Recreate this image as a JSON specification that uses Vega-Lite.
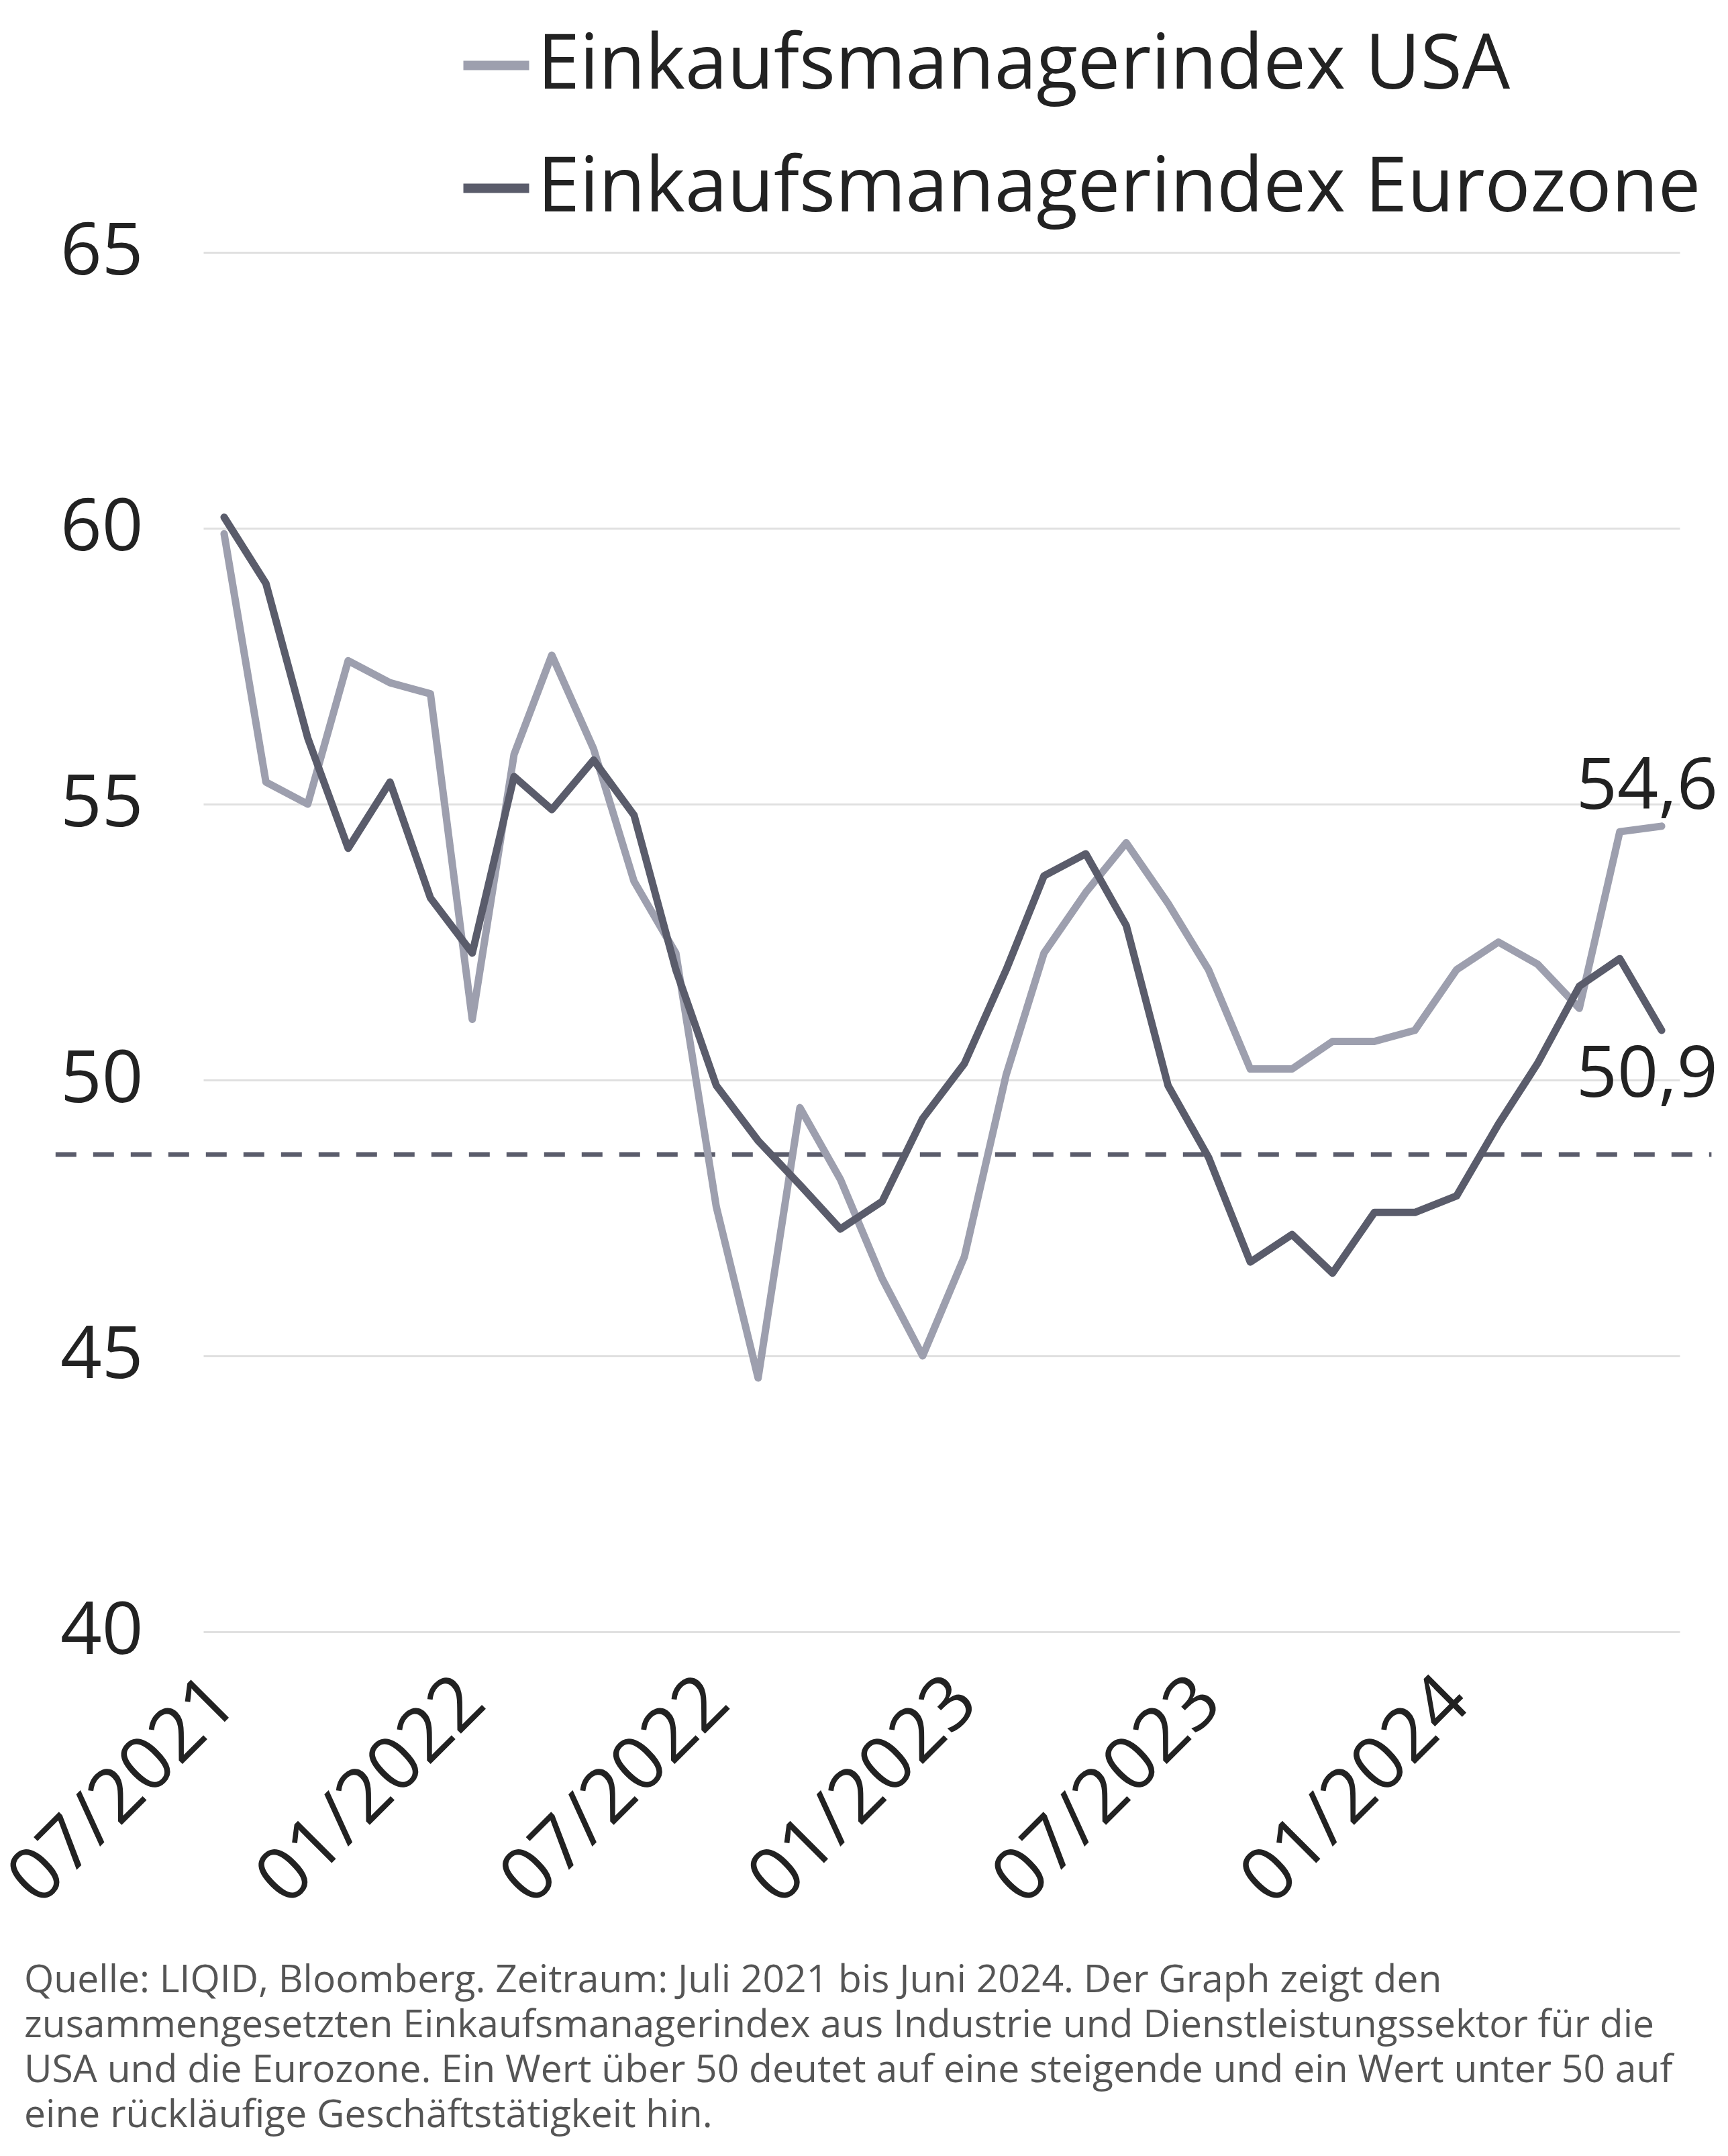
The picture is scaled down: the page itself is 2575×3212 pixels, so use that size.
{
  "$schema": "https://vega.github.io/schema/vega-lite/v6.json",
  "width": 2200,
  "height": 2055,
  "autosize": {"type": "none"},
  "padding": {"left": 303, "top": 376, "right": 72, "bottom": 781},
  "background": "white",
  "config": {"font": "Open Sans", "view": {"stroke": null}},
  "title": {
    "text": [
      "Quelle: LIQID, Bloomberg. Zeitraum: Juli 2021 bis Juni 2024. Der Graph zeigt den",
      "zusammengesetzten Einkaufsmanagerindex aus Industrie und Dienstleistungssektor für die",
      "USA und die Eurozone. Ein Wert über 50 deutet auf eine steigende und ein Wert unter 50 auf",
      "eine rückläufige Geschäftstätigkeit hin."
    ],
    "orient": "bottom",
    "anchor": "start",
    "frame": "group",
    "fontSize": 57,
    "fontWeight": "normal",
    "color": "#555555",
    "lineHeight": 67,
    "dx": -267,
    "offset": 66,
    "baseline": "top"
  },
  "encoding": {
    "x": {
      "field": "d",
      "type": "temporal",
      "title": null,
      "scale": {"type": "utc", "domain": [{"year": 2021, "month": 6, "date": 15, "hours": 14, "utc": true}, {"year": 2024, "month": 6, "date": 14, "hours": 10, "utc": true}]},
      "axis": {
        "values": [
          {"year": 2021, "month": 7, "date": 1, "utc": true},
          {"year": 2022, "month": 1, "date": 1, "utc": true},
          {"year": 2022, "month": 7, "date": 1, "utc": true},
          {"year": 2023, "month": 1, "date": 1, "utc": true},
          {"year": 2023, "month": 7, "date": 1, "utc": true},
          {"year": 2024, "month": 1, "date": 1, "utc": true}
        ],
        "labelExpr": "utcFormat(datum.value, '%m/%Y')",
        "labelAngle": -45,
        "labelAlign": "right",
        "labelBaseline": "middle",
        "labelFontSize": 112,
        "labelColor": "#222222",
        "labelPadding": 86,
        "labelLimit": 3000,
        "labelOverlap": false,
        "labelFlush": false,
        "labelBound": false,
        "ticks": false,
        "domain": false,
        "grid": false
      }
    },
    "y": {
      "field": "v",
      "type": "quantitative",
      "title": null,
      "scale": {"domain": [40, 65], "nice": false, "zero": false},
      "axis": {
        "values": [40, 45, 50, 55, 60, 65],
        "grid": true,
        "gridColor": "#e0e0e0",
        "gridWidth": 3,
        "domain": false,
        "ticks": false,
        "labelFontSize": 108,
        "labelColor": "#222222",
        "labelPadding": 90
      }
    }
  },
  "layer": [
    {
      "data": {"values": [{"d": "2021-02-26", "d2": "2024-07-08", "v": 48.65}]},
      "mark": {"type": "rule", "color": "#5a5c6b", "strokeWidth": 7, "strokeDash": [31, 25]},
      "encoding": {"x2": {"field": "d2"}}
    },
    {
      "data": {"values": [
        {"d": "2021-07-01", "s": "Einkaufsmanagerindex USA", "v": 59.9},
        {"d": "2021-08-01", "s": "Einkaufsmanagerindex USA", "v": 55.4},
        {"d": "2021-09-01", "s": "Einkaufsmanagerindex USA", "v": 55.0},
        {"d": "2021-10-01", "s": "Einkaufsmanagerindex USA", "v": 57.6},
        {"d": "2021-11-01", "s": "Einkaufsmanagerindex USA", "v": 57.2},
        {"d": "2021-12-01", "s": "Einkaufsmanagerindex USA", "v": 57.0},
        {"d": "2022-01-01", "s": "Einkaufsmanagerindex USA", "v": 51.1},
        {"d": "2022-02-01", "s": "Einkaufsmanagerindex USA", "v": 55.9},
        {"d": "2022-03-01", "s": "Einkaufsmanagerindex USA", "v": 57.7},
        {"d": "2022-04-01", "s": "Einkaufsmanagerindex USA", "v": 56.0},
        {"d": "2022-05-01", "s": "Einkaufsmanagerindex USA", "v": 53.6},
        {"d": "2022-06-01", "s": "Einkaufsmanagerindex USA", "v": 52.3},
        {"d": "2022-07-01", "s": "Einkaufsmanagerindex USA", "v": 47.7},
        {"d": "2022-08-01", "s": "Einkaufsmanagerindex USA", "v": 44.6},
        {"d": "2022-09-01", "s": "Einkaufsmanagerindex USA", "v": 49.5},
        {"d": "2022-10-01", "s": "Einkaufsmanagerindex USA", "v": 48.2},
        {"d": "2022-11-01", "s": "Einkaufsmanagerindex USA", "v": 46.4},
        {"d": "2022-12-01", "s": "Einkaufsmanagerindex USA", "v": 45.0},
        {"d": "2023-01-01", "s": "Einkaufsmanagerindex USA", "v": 46.8},
        {"d": "2023-02-01", "s": "Einkaufsmanagerindex USA", "v": 50.1},
        {"d": "2023-03-01", "s": "Einkaufsmanagerindex USA", "v": 52.3},
        {"d": "2023-04-01", "s": "Einkaufsmanagerindex USA", "v": 53.4},
        {"d": "2023-05-01", "s": "Einkaufsmanagerindex USA", "v": 54.3},
        {"d": "2023-06-01", "s": "Einkaufsmanagerindex USA", "v": 53.2},
        {"d": "2023-07-01", "s": "Einkaufsmanagerindex USA", "v": 52.0},
        {"d": "2023-08-01", "s": "Einkaufsmanagerindex USA", "v": 50.2},
        {"d": "2023-09-01", "s": "Einkaufsmanagerindex USA", "v": 50.2},
        {"d": "2023-10-01", "s": "Einkaufsmanagerindex USA", "v": 50.7},
        {"d": "2023-11-01", "s": "Einkaufsmanagerindex USA", "v": 50.7},
        {"d": "2023-12-01", "s": "Einkaufsmanagerindex USA", "v": 50.9},
        {"d": "2024-01-01", "s": "Einkaufsmanagerindex USA", "v": 52.0},
        {"d": "2024-02-01", "s": "Einkaufsmanagerindex USA", "v": 52.5},
        {"d": "2024-03-01", "s": "Einkaufsmanagerindex USA", "v": 52.1},
        {"d": "2024-04-01", "s": "Einkaufsmanagerindex USA", "v": 51.3},
        {"d": "2024-05-01", "s": "Einkaufsmanagerindex USA", "v": 54.5},
        {"d": "2024-06-01", "s": "Einkaufsmanagerindex USA", "v": 54.6},
        {"d": "2021-07-01", "s": "Einkaufsmanagerindex Eurozone", "v": 60.2},
        {"d": "2021-08-01", "s": "Einkaufsmanagerindex Eurozone", "v": 59.0},
        {"d": "2021-09-01", "s": "Einkaufsmanagerindex Eurozone", "v": 56.2},
        {"d": "2021-10-01", "s": "Einkaufsmanagerindex Eurozone", "v": 54.2},
        {"d": "2021-11-01", "s": "Einkaufsmanagerindex Eurozone", "v": 55.4},
        {"d": "2021-12-01", "s": "Einkaufsmanagerindex Eurozone", "v": 53.3},
        {"d": "2022-01-01", "s": "Einkaufsmanagerindex Eurozone", "v": 52.3},
        {"d": "2022-02-01", "s": "Einkaufsmanagerindex Eurozone", "v": 55.5},
        {"d": "2022-03-01", "s": "Einkaufsmanagerindex Eurozone", "v": 54.9},
        {"d": "2022-04-01", "s": "Einkaufsmanagerindex Eurozone", "v": 55.8},
        {"d": "2022-05-01", "s": "Einkaufsmanagerindex Eurozone", "v": 54.8},
        {"d": "2022-06-01", "s": "Einkaufsmanagerindex Eurozone", "v": 52.0},
        {"d": "2022-07-01", "s": "Einkaufsmanagerindex Eurozone", "v": 49.9},
        {"d": "2022-08-01", "s": "Einkaufsmanagerindex Eurozone", "v": 48.9},
        {"d": "2022-09-01", "s": "Einkaufsmanagerindex Eurozone", "v": 48.1},
        {"d": "2022-10-01", "s": "Einkaufsmanagerindex Eurozone", "v": 47.3},
        {"d": "2022-11-01", "s": "Einkaufsmanagerindex Eurozone", "v": 47.8},
        {"d": "2022-12-01", "s": "Einkaufsmanagerindex Eurozone", "v": 49.3},
        {"d": "2023-01-01", "s": "Einkaufsmanagerindex Eurozone", "v": 50.3},
        {"d": "2023-02-01", "s": "Einkaufsmanagerindex Eurozone", "v": 52.0},
        {"d": "2023-03-01", "s": "Einkaufsmanagerindex Eurozone", "v": 53.7},
        {"d": "2023-04-01", "s": "Einkaufsmanagerindex Eurozone", "v": 54.1},
        {"d": "2023-05-01", "s": "Einkaufsmanagerindex Eurozone", "v": 52.8},
        {"d": "2023-06-01", "s": "Einkaufsmanagerindex Eurozone", "v": 49.9},
        {"d": "2023-07-01", "s": "Einkaufsmanagerindex Eurozone", "v": 48.6},
        {"d": "2023-08-01", "s": "Einkaufsmanagerindex Eurozone", "v": 46.7},
        {"d": "2023-09-01", "s": "Einkaufsmanagerindex Eurozone", "v": 47.2},
        {"d": "2023-10-01", "s": "Einkaufsmanagerindex Eurozone", "v": 46.5},
        {"d": "2023-11-01", "s": "Einkaufsmanagerindex Eurozone", "v": 47.6},
        {"d": "2023-12-01", "s": "Einkaufsmanagerindex Eurozone", "v": 47.6},
        {"d": "2024-01-01", "s": "Einkaufsmanagerindex Eurozone", "v": 47.9},
        {"d": "2024-02-01", "s": "Einkaufsmanagerindex Eurozone", "v": 49.2},
        {"d": "2024-03-01", "s": "Einkaufsmanagerindex Eurozone", "v": 50.3},
        {"d": "2024-04-01", "s": "Einkaufsmanagerindex Eurozone", "v": 51.7},
        {"d": "2024-05-01", "s": "Einkaufsmanagerindex Eurozone", "v": 52.2},
        {"d": "2024-06-01", "s": "Einkaufsmanagerindex Eurozone", "v": 50.9}
      ]},
      "mark": {"type": "line", "strokeWidth": 11, "strokeCap": "round", "strokeJoin": "round"},
      "encoding": {
        "color": {
          "field": "s",
          "type": "nominal",
          "scale": {"domain": ["Einkaufsmanagerindex USA", "Einkaufsmanagerindex Eurozone"], "range": ["#9d9fae", "#5a5c6b"]},
          "legend": {
            "orient": "none",
            "legendX": 380,
            "legendY": -335,
            "title": null,
            "symbolType": "stroke",
            "symbolSize": 9600,
            "symbolStrokeWidth": 14,
            "labelFontSize": 113,
            "labelColor": "#222222",
            "labelOffset": 5,
            "labelLimit": 3000,
            "rowPadding": 69
          }
        }
      }
    },
    {
      "data": {"values": [{"d": "2024-06-01", "v": 54.6, "t": "54,6"}]},
      "mark": {"type": "text", "align": "right", "baseline": "alphabetic", "dx": 84, "dy": -26, "fontSize": 107, "color": "#222222"},
      "encoding": {"text": {"field": "t"}}
    },
    {
      "data": {"values": [{"d": "2024-06-01", "v": 50.9, "t": "50,9"}]},
      "mark": {"type": "text", "align": "right", "baseline": "alphabetic", "dx": 84, "dy": 99, "fontSize": 107, "color": "#222222"},
      "encoding": {"text": {"field": "t"}}
    }
  ]
}
